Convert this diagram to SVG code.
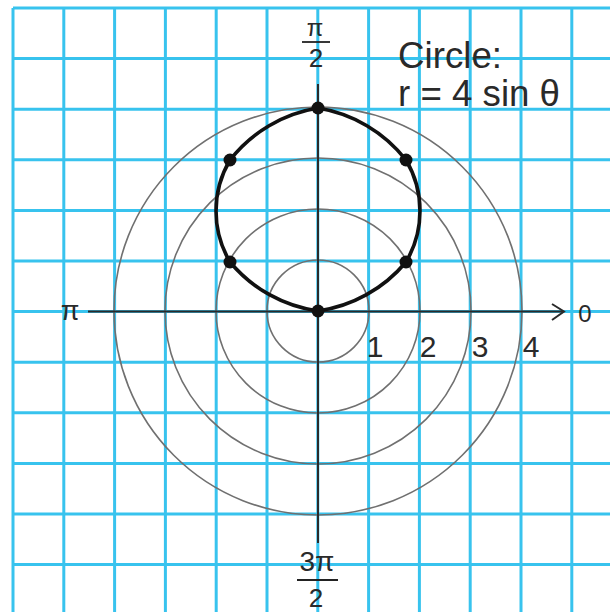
<svg xmlns="http://www.w3.org/2000/svg" width="610" height="612" viewBox="0 0 610 612">
<defs>
<style>
.grid line{stroke:#38c3ee;stroke-width:3}
.ring{fill:none;stroke:#707070;stroke-width:1.6}
.axis{stroke:#2a2a2a;stroke-width:2;fill:none}
.lbl{font-family:"Liberation Sans",Arial,sans-serif;fill:#2a2a2a}
.dot{fill:#111}
</style>
</defs>
<rect width="610" height="612" fill="#fff"/>
<g id="grid" class="grid">
<line x1="13" y1="8" x2="13" y2="612"/>
<line x1="63.8" y1="8" x2="63.8" y2="612"/>
<line x1="114.6" y1="8" x2="114.6" y2="612"/>
<line x1="165.4" y1="8" x2="165.4" y2="612"/>
<line x1="216.2" y1="8" x2="216.2" y2="612"/>
<line x1="267" y1="8" x2="267" y2="612"/>
<line x1="317.8" y1="8" x2="317.8" y2="612"/>
<line x1="368.6" y1="8" x2="368.6" y2="612"/>
<line x1="419.4" y1="8" x2="419.4" y2="612"/>
<line x1="470.2" y1="8" x2="470.2" y2="612"/>
<line x1="521" y1="8" x2="521" y2="612"/>
<line x1="571.8" y1="8" x2="571.8" y2="612"/>
<line x1="13" y1="8" x2="610" y2="8"/>
<line x1="13" y1="58.6" x2="610" y2="58.6"/>
<line x1="13" y1="109.2" x2="610" y2="109.2"/>
<line x1="13" y1="159.8" x2="610" y2="159.8"/>
<line x1="13" y1="210.4" x2="610" y2="210.4"/>
<line x1="13" y1="261" x2="610" y2="261"/>
<line x1="13" y1="311.6" x2="610" y2="311.6"/>
<line x1="13" y1="362.2" x2="610" y2="362.2"/>
<line x1="13" y1="412.8" x2="610" y2="412.8"/>
<line x1="13" y1="463.4" x2="610" y2="463.4"/>
<line x1="13" y1="514" x2="610" y2="514"/>
<line x1="13" y1="564.6" x2="610" y2="564.6"/>
</g>
<g id="rings">
<circle class="ring" cx="318" cy="311" r="51"/>
<circle class="ring" cx="318" cy="311" r="102"/>
<circle class="ring" cx="318" cy="311" r="153"/>
<circle class="ring" cx="318" cy="311" r="204"/>
</g>
<g id="axes">
<line class="axis" x1="318" y1="84" x2="318" y2="543"/>
<line class="axis" x1="88" y1="311.5" x2="563" y2="311.5"/>
<polyline class="axis" points="552,304 564,311.5 552,320"/>
</g>
<g id="curve">
<path d="M318,108 A140,140 0 0 1 406,160 A100,100 0 0 1 406,262 A140,140 0 0 1 318,311 A140,140 0 0 1 230,262 A100,100 0 0 1 230,160 A140,140 0 0 1 318,108 Z" fill="none" stroke="#111" stroke-width="3.6" stroke-linejoin="round"/>
<circle class="dot" cx="318" cy="108" r="6.5"/>
<circle class="dot" cx="406" cy="160" r="6.5"/>
<circle class="dot" cx="406" cy="262" r="6.5"/>
<circle class="dot" cx="318" cy="311" r="6.5"/>
<circle class="dot" cx="230" cy="262" r="6.5"/>
<circle class="dot" cx="230" cy="160" r="6.5"/>
</g>
<g id="labels">
<text class="lbl" x="315" y="36" font-size="24" text-anchor="middle">π</text>
<line x1="302" y1="42" x2="330" y2="42" stroke="#222" stroke-width="1.8"/>
<text class="lbl" x="316" y="67" font-size="26" text-anchor="middle">2</text>
<text class="lbl" x="317" y="571" font-size="28" text-anchor="middle">3π</text>
<line x1="297" y1="580" x2="338" y2="580" stroke="#222" stroke-width="1.8"/>
<text class="lbl" x="316" y="607" font-size="26" text-anchor="middle">2</text>
<text class="lbl" x="70" y="320" font-size="27" text-anchor="middle">π</text>
<text class="lbl" x="585" y="322" font-size="24" text-anchor="middle">0</text>
<text class="lbl" x="375" y="357" font-size="30" text-anchor="middle">1</text>
<text class="lbl" x="428" y="357" font-size="30" text-anchor="middle">2</text>
<text class="lbl" x="480" y="357" font-size="30" text-anchor="middle">3</text>
<text class="lbl" x="531" y="357" font-size="30" text-anchor="middle">4</text>
<text class="lbl" x="398" y="68" font-size="37" textLength="104" lengthAdjust="spacingAndGlyphs">Circle:</text>
<text class="lbl" x="398" y="106" font-size="37" textLength="162" lengthAdjust="spacingAndGlyphs">r = 4 sin θ</text>
</g>
</svg>
